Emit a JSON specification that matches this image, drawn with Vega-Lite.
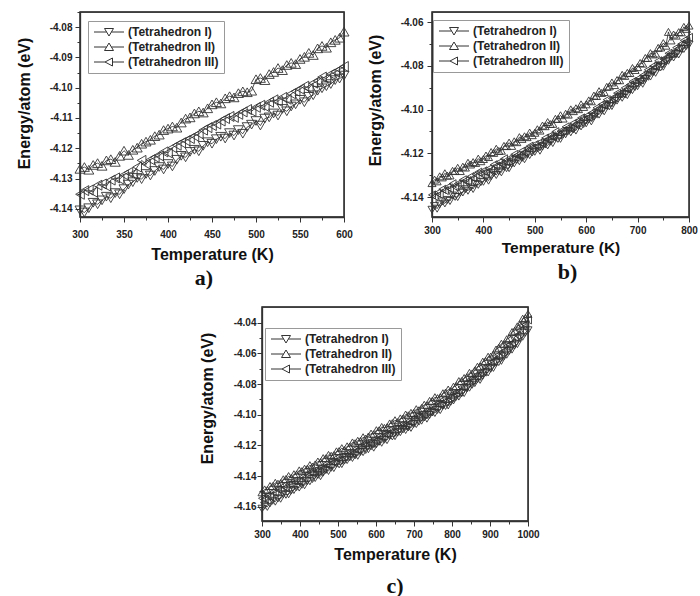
{
  "$schema": "https://vega.github.io/schema/vega-lite/v6.json",
  "background": "white",
  "padding": {"left": 15, "top": 10, "right": 5, "bottom": 5},
  "config": {
    "font": "Liberation Sans",
    "view": {"stroke": "#333", "strokeWidth": 1.3},
    "axis": {
      "grid": false,
      "domain": true,
      "domainColor": "#333",
      "domainWidth": 1.3,
      "ticks": true,
      "tickColor": "#333",
      "tickWidth": 1,
      "labelFont": "Liberation Sans",
      "labelFontSize": 10,
      "labelFontWeight": "bold",
      "labelColor": "#222",
      "titleFont": "Liberation Sans",
      "titleFontSize": 16,
      "titleFontWeight": "bold",
      "titleColor": "#111"
    },
    "legend": {
      "title": null,
      "orient": "none",
      "padding": 5,
      "rowPadding": 3,
      "strokeColor": "#999",
      "strokeWidth": 1,
      "fillColor": "white",
      "labelFont": "Liberation Sans",
      "labelFontSize": 12,
      "labelFontWeight": "bold",
      "labelColor": "#222",
      "labelOffset": 23,
      "symbolSize": 100,
      "symbolOpacity": 1,
      "symbolStrokeWidth": 1,
      "symbolStrokeColor": "#333",
      "symbolFillColor": "transparent"
    },
    "title": {"font": "Liberation Serif", "fontSize": 22, "fontWeight": "bold", "color": "#111"}
  },
  "datasets": {
    "panelA": [
      {"t":300,"I":-4.1405,"II":-4.1268,"III":-4.1352},
      {"t":305,"I":-4.1412,"II":-4.1262,"III":-4.1340},
      {"t":310,"I":-4.1398,"II":-4.1271,"III":-4.1338},
      {"t":315,"I":-4.1380,"II":-4.1255,"III":-4.1345},
      {"t":320,"I":-4.1385,"II":-4.1249,"III":-4.1322},
      {"t":325,"I":-4.1372,"II":-4.1258,"III":-4.1318},
      {"t":330,"I":-4.1360,"II":-4.1240,"III":-4.1325},
      {"t":335,"I":-4.1365,"II":-4.1236,"III":-4.1305},
      {"t":340,"I":-4.1348,"II":-4.1245,"III":-4.1298},
      {"t":345,"I":-4.1352,"II":-4.1225,"III":-4.1302},
      {"t":350,"I":-4.1335,"II":-4.1208,"III":-4.1288},
      {"t":355,"I":-4.1320,"II":-4.1222,"III":-4.1280},
      {"t":360,"I":-4.1312,"II":-4.1205,"III":-4.1285},
      {"t":365,"I":-4.1298,"II":-4.1198,"III":-4.1262},
      {"t":370,"I":-4.1302,"II":-4.1185,"III":-4.1240},
      {"t":375,"I":-4.1285,"II":-4.1178,"III":-4.1252},
      {"t":380,"I":-4.1290,"II":-4.1172,"III":-4.1238},
      {"t":385,"I":-4.1275,"II":-4.1160,"III":-4.1230},
      {"t":390,"I":-4.1262,"II":-4.1155,"III":-4.1225},
      {"t":395,"I":-4.1270,"II":-4.1140,"III":-4.1212},
      {"t":400,"I":-4.1252,"II":-4.1135,"III":-4.1215},
      {"t":405,"I":-4.1260,"II":-4.1128,"III":-4.1198},
      {"t":410,"I":-4.1238,"II":-4.1132,"III":-4.1190},
      {"t":415,"I":-4.1225,"II":-4.1115,"III":-4.1182},
      {"t":420,"I":-4.1230,"II":-4.1102,"III":-4.1175},
      {"t":425,"I":-4.1212,"II":-4.1098,"III":-4.1168},
      {"t":430,"I":-4.1205,"II":-4.1085,"III":-4.1160},
      {"t":435,"I":-4.1210,"II":-4.1078,"III":-4.1152},
      {"t":440,"I":-4.1192,"II":-4.1082,"III":-4.1140},
      {"t":445,"I":-4.1180,"II":-4.1068,"III":-4.1132},
      {"t":450,"I":-4.1185,"II":-4.1055,"III":-4.1125},
      {"t":455,"I":-4.1170,"II":-4.1048,"III":-4.1120},
      {"t":460,"I":-4.1162,"II":-4.1052,"III":-4.1110},
      {"t":465,"I":-4.1168,"II":-4.1035,"III":-4.1102},
      {"t":470,"I":-4.1150,"II":-4.1028,"III":-4.1095},
      {"t":475,"I":-4.1158,"II":-4.1032,"III":-4.1098},
      {"t":480,"I":-4.1140,"II":-4.1018,"III":-4.1088},
      {"t":485,"I":-4.1152,"II":-4.1012,"III":-4.1080},
      {"t":490,"I":-4.1130,"II":-4.1015,"III":-4.1072},
      {"t":495,"I":-4.1122,"II":-4.1010,"III":-4.1078},
      {"t":500,"I":-4.1110,"II":-4.0972,"III":-4.1065},
      {"t":505,"I":-4.1125,"II":-4.0968,"III":-4.1058},
      {"t":510,"I":-4.1102,"II":-4.0975,"III":-4.1062},
      {"t":515,"I":-4.1098,"II":-4.0955,"III":-4.1048},
      {"t":520,"I":-4.1085,"II":-4.0948,"III":-4.1040},
      {"t":525,"I":-4.1092,"II":-4.0935,"III":-4.1045},
      {"t":530,"I":-4.1070,"II":-4.0942,"III":-4.1032},
      {"t":535,"I":-4.1078,"II":-4.0925,"III":-4.1038},
      {"t":540,"I":-4.1062,"II":-4.0918,"III":-4.1020},
      {"t":545,"I":-4.1055,"II":-4.0922,"III":-4.1012},
      {"t":550,"I":-4.1040,"II":-4.0905,"III":-4.1005},
      {"t":555,"I":-4.1048,"II":-4.0898,"III":-4.0995},
      {"t":560,"I":-4.1030,"II":-4.0885,"III":-4.1002},
      {"t":565,"I":-4.1025,"II":-4.0892,"III":-4.0985},
      {"t":570,"I":-4.1010,"II":-4.0870,"III":-4.0978},
      {"t":575,"I":-4.1002,"II":-4.0862,"III":-4.0965},
      {"t":580,"I":-4.0995,"II":-4.0868,"III":-4.0970},
      {"t":585,"I":-4.0988,"II":-4.0850,"III":-4.0955},
      {"t":590,"I":-4.0975,"II":-4.0842,"III":-4.0948},
      {"t":595,"I":-4.0970,"II":-4.0835,"III":-4.0940},
      {"t":600,"I":-4.0960,"II":-4.0815,"III":-4.0930}
    ],
    "panelB": [
      {"t":300,"I":-4.1458,"II":-4.1336,"III":-4.1390},
      {"t":305,"I":-4.1441,"II":-4.1320,"III":-4.1397},
      {"t":310,"I":-4.1453,"II":-4.1328,"III":-4.1382},
      {"t":315,"I":-4.1433,"II":-4.1305,"III":-4.1388},
      {"t":320,"I":-4.1420,"II":-4.1310,"III":-4.1364},
      {"t":325,"I":-4.1429,"II":-4.1291,"III":-4.1370},
      {"t":330,"I":-4.1413,"II":-4.1302,"III":-4.1355},
      {"t":335,"I":-4.1418,"II":-4.1301,"III":-4.1362},
      {"t":340,"I":-4.1393,"II":-4.1280,"III":-4.1339},
      {"t":345,"I":-4.1399,"II":-4.1281,"III":-4.1354},
      {"t":350,"I":-4.1400,"II":-4.1266,"III":-4.1339},
      {"t":355,"I":-4.1379,"II":-4.1281,"III":-4.1339},
      {"t":360,"I":-4.1379,"II":-4.1261,"III":-4.1321},
      {"t":365,"I":-4.1364,"II":-4.1265,"III":-4.1325},
      {"t":370,"I":-4.1371,"II":-4.1243,"III":-4.1329},
      {"t":375,"I":-4.1356,"II":-4.1251,"III":-4.1306},
      {"t":380,"I":-4.1363,"II":-4.1240,"III":-4.1314},
      {"t":385,"I":-4.1340,"II":-4.1244,"III":-4.1297},
      {"t":390,"I":-4.1344,"II":-4.1224,"III":-4.1286},
      {"t":395,"I":-4.1332,"II":-4.1236,"III":-4.1294},
      {"t":400,"I":-4.1330,"II":-4.1226,"III":-4.1280},
      {"t":405,"I":-4.1314,"II":-4.1210,"III":-4.1287},
      {"t":410,"I":-4.1325,"II":-4.1217,"III":-4.1271},
      {"t":415,"I":-4.1305,"II":-4.1194,"III":-4.1277},
      {"t":420,"I":-4.1291,"II":-4.1198,"III":-4.1252},
      {"t":425,"I":-4.1299,"II":-4.1179,"III":-4.1258},
      {"t":430,"I":-4.1282,"II":-4.1189,"III":-4.1242},
      {"t":435,"I":-4.1287,"II":-4.1188,"III":-4.1249},
      {"t":440,"I":-4.1261,"II":-4.1166,"III":-4.1225},
      {"t":445,"I":-4.1268,"II":-4.1167,"III":-4.1240},
      {"t":450,"I":-4.1268,"II":-4.1151,"III":-4.1224},
      {"t":455,"I":-4.1247,"II":-4.1166,"III":-4.1224},
      {"t":460,"I":-4.1246,"II":-4.1145,"III":-4.1205},
      {"t":465,"I":-4.1230,"II":-4.1149,"III":-4.1209},
      {"t":470,"I":-4.1236,"II":-4.1126,"III":-4.1212},
      {"t":475,"I":-4.1221,"II":-4.1134,"III":-4.1189},
      {"t":480,"I":-4.1227,"II":-4.1122,"III":-4.1196},
      {"t":485,"I":-4.1205,"II":-4.1126,"III":-4.1179},
      {"t":490,"I":-4.1208,"II":-4.1105,"III":-4.1167},
      {"t":495,"I":-4.1196,"II":-4.1117,"III":-4.1175},
      {"t":500,"I":-4.1193,"II":-4.1106,"III":-4.1160},
      {"t":505,"I":-4.1177,"II":-4.1090,"III":-4.1167},
      {"t":510,"I":-4.1188,"II":-4.1096,"III":-4.1150},
      {"t":515,"I":-4.1169,"II":-4.1073,"III":-4.1156},
      {"t":520,"I":-4.1155,"II":-4.1076,"III":-4.1130},
      {"t":525,"I":-4.1164,"II":-4.1057,"III":-4.1136},
      {"t":530,"I":-4.1147,"II":-4.1066,"III":-4.1119},
      {"t":535,"I":-4.1153,"II":-4.1065,"III":-4.1126},
      {"t":540,"I":-4.1127,"II":-4.1042,"III":-4.1101},
      {"t":545,"I":-4.1134,"II":-4.1043,"III":-4.1116},
      {"t":550,"I":-4.1134,"II":-4.1026,"III":-4.1099},
      {"t":555,"I":-4.1114,"II":-4.1041,"III":-4.1099},
      {"t":560,"I":-4.1113,"II":-4.1019,"III":-4.1079},
      {"t":565,"I":-4.1098,"II":-4.1023,"III":-4.1083},
      {"t":570,"I":-4.1104,"II":-4.0999,"III":-4.1085},
      {"t":575,"I":-4.1090,"II":-4.1007,"III":-4.1062},
      {"t":580,"I":-4.1096,"II":-4.0994,"III":-4.1068},
      {"t":585,"I":-4.1074,"II":-4.0998,"III":-4.1051},
      {"t":590,"I":-4.1077,"II":-4.0976,"III":-4.1038},
      {"t":595,"I":-4.1066,"II":-4.0988,"III":-4.1046},
      {"t":600,"I":-4.1063,"II":-4.0976,"III":-4.1030},
      {"t":605,"I":-4.1045,"II":-4.0958,"III":-4.1035},
      {"t":610,"I":-4.1054,"II":-4.0962,"III":-4.1016},
      {"t":615,"I":-4.1032,"II":-4.0936,"III":-4.1019},
      {"t":620,"I":-4.1017,"II":-4.0938,"III":-4.0992},
      {"t":625,"I":-4.1023,"II":-4.0916,"III":-4.0995},
      {"t":630,"I":-4.1005,"II":-4.0924,"III":-4.0977},
      {"t":635,"I":-4.1008,"II":-4.0920,"III":-4.0981},
      {"t":640,"I":-4.0981,"II":-4.0896,"III":-4.0955},
      {"t":645,"I":-4.0985,"II":-4.0894,"III":-4.0967},
      {"t":650,"I":-4.0984,"II":-4.0876,"III":-4.0949},
      {"t":655,"I":-4.0961,"II":-4.0888,"III":-4.0946},
      {"t":660,"I":-4.0959,"II":-4.0865,"III":-4.0925},
      {"t":665,"I":-4.0941,"II":-4.0866,"III":-4.0926},
      {"t":670,"I":-4.0946,"II":-4.0841,"III":-4.0927},
      {"t":675,"I":-4.0929,"II":-4.0846,"III":-4.0901},
      {"t":680,"I":-4.0934,"II":-4.0832,"III":-4.0906},
      {"t":685,"I":-4.0909,"II":-4.0833,"III":-4.0886},
      {"t":690,"I":-4.0911,"II":-4.0810,"III":-4.0872},
      {"t":695,"I":-4.0897,"II":-4.0819,"III":-4.0877},
      {"t":700,"I":-4.0893,"II":-4.0806,"III":-4.0860},
      {"t":705,"I":-4.0874,"II":-4.0787,"III":-4.0864},
      {"t":710,"I":-4.0882,"II":-4.0790,"III":-4.0844},
      {"t":715,"I":-4.0860,"II":-4.0764,"III":-4.0847},
      {"t":720,"I":-4.0843,"II":-4.0764,"III":-4.0818},
      {"t":725,"I":-4.0849,"II":-4.0742,"III":-4.0821},
      {"t":730,"I":-4.0829,"II":-4.0748,"III":-4.0801},
      {"t":735,"I":-4.0832,"II":-4.0744,"III":-4.0805},
      {"t":740,"I":-4.0803,"II":-4.0718,"III":-4.0777},
      {"t":745,"I":-4.0807,"II":-4.0716,"III":-4.0789},
      {"t":750,"I":-4.0804,"II":-4.0696,"III":-4.0769},
      {"t":755,"I":-4.0781,"II":-4.0708,"III":-4.0766},
      {"t":760,"I":-4.0777,"II":-4.0645,"III":-4.0743},
      {"t":765,"I":-4.0759,"II":-4.0684,"III":-4.0744},
      {"t":770,"I":-4.0762,"II":-4.0657,"III":-4.0743},
      {"t":775,"I":-4.0745,"II":-4.0662,"III":-4.0717},
      {"t":780,"I":-4.0748,"II":-4.0646,"III":-4.0720},
      {"t":785,"I":-4.0723,"II":-4.0647,"III":-4.0700},
      {"t":790,"I":-4.0723,"II":-4.0622,"III":-4.0684},
      {"t":795,"I":-4.0709,"II":-4.0631,"III":-4.0689},
      {"t":800,"I":-4.0703,"II":-4.0616,"III":-4.0670}
    ],
    "panelC": [
      {"t":300,"I":-4.1613,"II":-4.1506,"III":-4.1545},
      {"t":307,"I":-4.1593,"II":-4.1487,"III":-4.1549},
      {"t":314,"I":-4.1601,"II":-4.1491,"III":-4.1530},
      {"t":321,"I":-4.1578,"II":-4.1465,"III":-4.1533},
      {"t":328,"I":-4.1561,"II":-4.1466,"III":-4.1505},
      {"t":335,"I":-4.1567,"II":-4.1444,"III":-4.1508},
      {"t":342,"I":-4.1546,"II":-4.1450,"III":-4.1488},
      {"t":349,"I":-4.1548,"II":-4.1446,"III":-4.1492},
      {"t":356,"I":-4.1519,"II":-4.1421,"III":-4.1465},
      {"t":363,"I":-4.1522,"II":-4.1419,"III":-4.1477},
      {"t":370,"I":-4.1519,"II":-4.1400,"III":-4.1458},
      {"t":377,"I":-4.1495,"II":-4.1412,"III":-4.1455},
      {"t":384,"I":-4.1491,"II":-4.1388,"III":-4.1433},
      {"t":391,"I":-4.1472,"II":-4.1389,"III":-4.1434},
      {"t":398,"I":-4.1475,"II":-4.1363,"III":-4.1434},
      {"t":405,"I":-4.1457,"II":-4.1368,"III":-4.1408},
      {"t":412,"I":-4.1460,"II":-4.1352,"III":-4.1411},
      {"t":419,"I":-4.1434,"II":-4.1353,"III":-4.1391},
      {"t":426,"I":-4.1434,"II":-4.1329,"III":-4.1376},
      {"t":433,"I":-4.1419,"II":-4.1338,"III":-4.1381},
      {"t":440,"I":-4.1413,"II":-4.1324,"III":-4.1363},
      {"t":447,"I":-4.1393,"II":-4.1305,"III":-4.1367},
      {"t":454,"I":-4.1401,"II":-4.1309,"III":-4.1348},
      {"t":461,"I":-4.1378,"II":-4.1283,"III":-4.1351},
      {"t":468,"I":-4.1361,"II":-4.1284,"III":-4.1323},
      {"t":475,"I":-4.1367,"II":-4.1262,"III":-4.1326},
      {"t":482,"I":-4.1346,"II":-4.1268,"III":-4.1306},
      {"t":489,"I":-4.1348,"II":-4.1264,"III":-4.1310},
      {"t":496,"I":-4.1319,"II":-4.1239,"III":-4.1283},
      {"t":503,"I":-4.1324,"II":-4.1237,"III":-4.1295},
      {"t":510,"I":-4.1322,"II":-4.1218,"III":-4.1276},
      {"t":517,"I":-4.1299,"II":-4.1230,"III":-4.1273},
      {"t":524,"I":-4.1296,"II":-4.1206,"III":-4.1251},
      {"t":531,"I":-4.1278,"II":-4.1207,"III":-4.1252},
      {"t":538,"I":-4.1282,"II":-4.1181,"III":-4.1252},
      {"t":545,"I":-4.1265,"II":-4.1186,"III":-4.1226},
      {"t":552,"I":-4.1268,"II":-4.1170,"III":-4.1229},
      {"t":559,"I":-4.1243,"II":-4.1171,"III":-4.1209},
      {"t":566,"I":-4.1244,"II":-4.1147,"III":-4.1194},
      {"t":573,"I":-4.1230,"II":-4.1156,"III":-4.1199},
      {"t":580,"I":-4.1225,"II":-4.1142,"III":-4.1181},
      {"t":587,"I":-4.1206,"II":-4.1123,"III":-4.1185},
      {"t":594,"I":-4.1215,"II":-4.1127,"III":-4.1166},
      {"t":601,"I":-4.1193,"II":-4.1101,"III":-4.1169},
      {"t":608,"I":-4.1177,"II":-4.1102,"III":-4.1141},
      {"t":615,"I":-4.1183,"II":-4.1080,"III":-4.1144},
      {"t":622,"I":-4.1163,"II":-4.1086,"III":-4.1124},
      {"t":629,"I":-4.1166,"II":-4.1082,"III":-4.1128},
      {"t":636,"I":-4.1138,"II":-4.1057,"III":-4.1101},
      {"t":643,"I":-4.1142,"II":-4.1055,"III":-4.1113},
      {"t":650,"I":-4.1140,"II":-4.1036,"III":-4.1094},
      {"t":657,"I":-4.1117,"II":-4.1048,"III":-4.1091},
      {"t":664,"I":-4.1114,"II":-4.1024,"III":-4.1069},
      {"t":671,"I":-4.1096,"II":-4.1025,"III":-4.1070},
      {"t":678,"I":-4.1100,"II":-4.0999,"III":-4.1070},
      {"t":685,"I":-4.1083,"II":-4.1004,"III":-4.1044},
      {"t":692,"I":-4.1086,"II":-4.0988,"III":-4.1047},
      {"t":699,"I":-4.1061,"II":-4.0989,"III":-4.1027},
      {"t":706,"I":-4.1061,"II":-4.0964,"III":-4.1011},
      {"t":713,"I":-4.1045,"II":-4.0971,"III":-4.1014},
      {"t":720,"I":-4.1039,"II":-4.0956,"III":-4.0995},
      {"t":727,"I":-4.1018,"II":-4.0935,"III":-4.0997},
      {"t":734,"I":-4.1026,"II":-4.0938,"III":-4.0977},
      {"t":741,"I":-4.1002,"II":-4.0910,"III":-4.0978},
      {"t":748,"I":-4.0985,"II":-4.0910,"III":-4.0949},
      {"t":755,"I":-4.0989,"II":-4.0886,"III":-4.0950},
      {"t":762,"I":-4.0969,"II":-4.0892,"III":-4.0930},
      {"t":769,"I":-4.0970,"II":-4.0886,"III":-4.0932},
      {"t":776,"I":-4.0941,"II":-4.0860,"III":-4.0904},
      {"t":783,"I":-4.0943,"II":-4.0856,"III":-4.0914},
      {"t":790,"I":-4.0940,"II":-4.0836,"III":-4.0894},
      {"t":797,"I":-4.0915,"II":-4.0846,"III":-4.0889},
      {"t":804,"I":-4.0907,"II":-4.0817,"III":-4.0862},
      {"t":811,"I":-4.0884,"II":-4.0813,"III":-4.0858},
      {"t":818,"I":-4.0882,"II":-4.0781,"III":-4.0852},
      {"t":825,"I":-4.0860,"II":-4.0781,"III":-4.0821},
      {"t":832,"I":-4.0859,"II":-4.0761,"III":-4.0820},
      {"t":839,"I":-4.0828,"II":-4.0756,"III":-4.0794},
      {"t":846,"I":-4.0824,"II":-4.0727,"III":-4.0774},
      {"t":853,"I":-4.0805,"II":-4.0731,"III":-4.0774},
      {"t":860,"I":-4.0794,"II":-4.0711,"III":-4.0750},
      {"t":867,"I":-4.0770,"II":-4.0687,"III":-4.0749},
      {"t":874,"I":-4.0773,"II":-4.0685,"III":-4.0724},
      {"t":881,"I":-4.0746,"II":-4.0654,"III":-4.0722},
      {"t":888,"I":-4.0725,"II":-4.0650,"III":-4.0689},
      {"t":895,"I":-4.0725,"II":-4.0622,"III":-4.0686},
      {"t":902,"I":-4.0700,"II":-4.0621,"III":-4.0659},
      {"t":909,"I":-4.0695,"II":-4.0608,"III":-4.0654},
      {"t":916,"I":-4.0661,"II":-4.0575,"III":-4.0619},
      {"t":923,"I":-4.0657,"II":-4.0564,"III":-4.0622},
      {"t":930,"I":-4.0649,"II":-4.0537,"III":-4.0595},
      {"t":937,"I":-4.0619,"II":-4.0540,"III":-4.0583},
      {"t":944,"I":-4.0609,"II":-4.0508,"III":-4.0553},
      {"t":951,"I":-4.0584,"II":-4.0500,"III":-4.0545},
      {"t":958,"I":-4.0576,"II":-4.0461,"III":-4.0532},
      {"t":965,"I":-4.0548,"II":-4.0453,"III":-4.0493},
      {"t":972,"I":-4.0540,"II":-4.0424,"III":-4.0483},
      {"t":979,"I":-4.0503,"II":-4.0412,"III":-4.0450},
      {"t":986,"I":-4.0492,"II":-4.0374,"III":-4.0421},
      {"t":993,"I":-4.0466,"II":-4.0370,"III":-4.0413},
      {"t":1000,"I":-4.0450,"II":-4.0343,"III":-4.0382}
    ]
  },
  "resolve": {"scale": {"shape": "independent", "x": "independent", "y": "independent"}, "legend": {"shape": "independent"}},
  "spacing": 15,
  "vconcat": [
    {
      "hconcat": [
        {
          "width": 264,
          "height": 205,
          "data": {"name": "panelA"},
          "transform": [{"fold": ["I", "II", "III"], "as": ["series", "energy"]}],
          "title": {"text": "a)", "orient": "bottom", "frame": "group", "offset": 6, "dx": -8},
          "encoding": {
            "x": {
              "field": "t", "type": "quantitative",
              "scale": {"domain": [300, 600], "nice": false},
              "axis": {
                "title": "Temperature (K)",
                "values": [300, 325, 350, 375, 400, 425, 450, 475, 500, 525, 550, 575, 600],
                "format": "d",
                "labelFlush": false,
                "labelExpr": "datum.value % 50 === 0 ? datum.label : ''",
                "tickSize": {"condition": {"test": "datum.value % 50 !== 0", "value": 3}, "value": 5},
                "labelPadding": 7,
                "titlePadding": 7
              }
            },
            "y": {
              "field": "energy", "type": "quantitative",
              "scale": {"domain": [-4.1427, -4.075], "nice": false, "zero": false},
              "axis": {
                "title": "Energy/atom (eV)",
                "values": [-4.14, -4.135, -4.13, -4.125, -4.12, -4.115, -4.11, -4.105, -4.1, -4.095, -4.09, -4.085, -4.08, -4.075],
                "labelExpr": "abs(datum.value*100 - round(datum.value*100)) < 0.01 ? replace(format(datum.value, '.2f'), '−', '-') : ''",
                "tickSize": {"condition": {"test": "abs(datum.value*100 - round(datum.value*100)) > 0.01", "value": 3}, "value": 5},
                "labelPadding": 3,
                "titlePadding": 17,
                "titleY": 91
              }
            }
          },
          "resolve": {"scale": {"shape": "independent"}, "legend": {"shape": "independent"}},
          "layer": [
            {
              "transform": [{"filter": "datum.t === 300 && datum.series === 'I'"}],
              "mark": {"type": "rect", "filled": false, "stroke": "#333", "strokeWidth": 1.3},
              "encoding": {
                "x": {"datum": 300, "type": "quantitative"},
                "x2": {"datum": 600},
                "y": {"datum": -4.1427, "type": "quantitative"},
                "y2": {"datum": -4.075}
              }
            },
            {"mark": {"type": "line", "color": "#222", "strokeWidth": 0.8}, "encoding": {"detail": {"field": "series"}}},
            {
              "mark": {"type": "point", "filled": false, "size": 100, "color": "#333", "strokeWidth": 0.9, "opacity": 1},
              "encoding": {
                "shape": {
                  "field": "series", "type": "nominal",
                  "scale": {"domain": ["I", "II", "III"], "range": ["triangle-down", "triangle-up", "triangle-left"]},
                  "legend": null
                }
              }
            },
            {
              "transform": [{"filter": "datum.t === 300"}],
              "mark": {"type": "point", "filled": false, "size": 100, "color": "#333", "opacity": 0},
              "encoding": {
                "shape": {
                  "field": "series", "type": "nominal",
                  "scale": {"domain": ["I", "II", "III"], "range": ["M-1,0H1.52M2.48,0H5M1.1,-0.7H2.9L2,0.8Z", "M-1,0H1.52M2.48,0H5M2,-0.8L2.9,0.7H1.1Z", "M-1,0H1.2M2.7,0H5M1.2,0L2.7,-0.8V0.8Z"]},
                  "legend": {
                    "legendX": 8, "legendY": 9,
                    "symbolOpacity": 1,
                    "labelExpr": "'(Tetrahedron ' + datum.label + ')'"
                  }
                }
              }
            }
          ]
        },
        {
          "width": 257,
          "height": 205,
          "data": {"name": "panelB"},
          "transform": [{"fold": ["I", "II", "III"], "as": ["series", "energy"]}],
          "title": {"text": "b)", "orient": "bottom", "frame": "group", "offset": 6, "dx": 7},
          "encoding": {
            "x": {
              "field": "t", "type": "quantitative",
              "scale": {"domain": [300, 800], "nice": false},
              "axis": {
                "title": "Temperature (K)",
                "values": [300, 350, 400, 450, 500, 550, 600, 650, 700, 750, 800],
                "format": "d",
                "labelFlush": false,
                "labelExpr": "datum.value % 100 === 0 ? datum.label : ''",
                "tickSize": {"condition": {"test": "datum.value % 100 !== 0", "value": 3}, "value": 5},
                "labelPadding": 3,
                "titlePadding": 5,
                "titleFontSize": 15.5
              }
            },
            "y": {
              "field": "energy", "type": "quantitative",
              "scale": {"domain": [-4.1491, -4.0554], "nice": false, "zero": false},
              "axis": {
                "title": "Energy/atom (eV)",
                "values": [-4.14, -4.13, -4.12, -4.11, -4.1, -4.09, -4.08, -4.07, -4.06],
                "labelExpr": "abs(datum.value*50 - round(datum.value*50)) < 0.01 ? replace(format(datum.value, '.2f'), '−', '-') : ''",
                "tickSize": {"condition": {"test": "abs(datum.value*50 - round(datum.value*50)) > 0.01", "value": 3}, "value": 5},
                "labelPadding": 4,
                "titlePadding": 17,
                "titleY": 88
              }
            }
          },
          "resolve": {"scale": {"shape": "independent"}, "legend": {"shape": "independent"}},
          "layer": [
            {
              "transform": [{"filter": "datum.t === 300 && datum.series === 'I'"}],
              "mark": {"type": "rect", "filled": false, "stroke": "#333", "strokeWidth": 1.3},
              "encoding": {
                "x": {"datum": 300, "type": "quantitative"},
                "x2": {"datum": 800},
                "y": {"datum": -4.1491, "type": "quantitative"},
                "y2": {"datum": -4.0554}
              }
            },
            {"mark": {"type": "line", "color": "#222", "strokeWidth": 0.8}, "encoding": {"detail": {"field": "series"}}},
            {
              "mark": {"type": "point", "filled": false, "size": 65, "color": "#333", "strokeWidth": 0.9, "opacity": 1},
              "encoding": {
                "shape": {
                  "field": "series", "type": "nominal",
                  "scale": {"domain": ["I", "II", "III"], "range": ["triangle-down", "triangle-up", "triangle-left"]},
                  "legend": null
                }
              }
            },
            {
              "transform": [{"filter": "datum.t === 300"}],
              "mark": {"type": "point", "filled": false, "size": 100, "color": "#333", "opacity": 0},
              "encoding": {
                "shape": {
                  "field": "series", "type": "nominal",
                  "scale": {"domain": ["I", "II", "III"], "range": ["M-1,0H1.52M2.48,0H5M1.1,-0.7H2.9L2,0.8Z", "M-1,0H1.52M2.48,0H5M2,-0.8L2.9,0.7H1.1Z", "M-1,0H1.2M2.7,0H5M1.2,0L2.7,-0.8V0.8Z"]},
                  "legend": {
                    "legendX": 1, "legendY": 8,
                    "symbolOpacity": 1,
                    "labelExpr": "'(Tetrahedron ' + datum.label + ')'"
                  }
                }
              }
            }
          ]
        }
      ],
      "spacing": 13,
      "resolve": {"scale": {"shape": "independent", "x": "independent", "y": "independent"}, "legend": {"shape": "independent"}}
    },
    {
      "hconcat": [
        {
          "width": 117,
          "height": 10,
          "data": {"values": [{"gap": 0}]},
          "mark": {"type": "point", "opacity": 0},
          "encoding": {},
          "view": {"stroke": "transparent"}
        },
        {
          "width": 266,
          "height": 214,
          "data": {"name": "panelC"},
          "transform": [{"fold": ["I", "II", "III"], "as": ["series", "energy"]}],
          "title": {"text": "c)", "orient": "bottom", "frame": "group", "offset": 14},
          "encoding": {
            "x": {
              "field": "t", "type": "quantitative",
              "scale": {"domain": [300, 1000], "nice": false},
              "axis": {
                "title": "Temperature (K)",
                "values": [300, 350, 400, 450, 500, 550, 600, 650, 700, 750, 800, 850, 900, 950, 1000],
                "format": "d",
                "labelFlush": false,
                "labelExpr": "datum.value % 100 === 0 ? datum.label : ''",
                "tickSize": {"condition": {"test": "datum.value % 100 !== 0", "value": 3}, "value": 5},
                "labelPadding": 3,
                "titlePadding": 7
              }
            },
            "y": {
              "field": "energy", "type": "quantitative",
              "scale": {"domain": [-4.1693, -4.0298], "nice": false, "zero": false},
              "axis": {
                "title": "Energy/atom (eV)",
                "values": [-4.16, -4.15, -4.14, -4.13, -4.12, -4.11, -4.1, -4.09, -4.08, -4.07, -4.06, -4.05, -4.04],
                "labelExpr": "abs(datum.value*50 - round(datum.value*50)) < 0.01 ? replace(format(datum.value, '.2f'), '−', '-') : ''",
                "tickSize": {"condition": {"test": "abs(datum.value*50 - round(datum.value*50)) > 0.01", "value": 3}, "value": 5},
                "labelPadding": 1,
                "titlePadding": 18,
                "titleY": 91
              }
            }
          },
          "resolve": {"scale": {"shape": "independent"}, "legend": {"shape": "independent"}},
          "layer": [
            {
              "transform": [{"filter": "datum.t === 300 && datum.series === 'I'"}],
              "mark": {"type": "rect", "filled": false, "stroke": "#333", "strokeWidth": 1.3},
              "encoding": {
                "x": {"datum": 300, "type": "quantitative"},
                "x2": {"datum": 1000},
                "y": {"datum": -4.1693, "type": "quantitative"},
                "y2": {"datum": -4.0298}
              }
            },
            {"mark": {"type": "line", "color": "#222", "strokeWidth": 0.8}, "encoding": {"detail": {"field": "series"}}},
            {
              "mark": {"type": "point", "filled": false, "size": 65, "color": "#333", "strokeWidth": 0.9, "opacity": 1},
              "encoding": {
                "shape": {
                  "field": "series", "type": "nominal",
                  "scale": {"domain": ["I", "II", "III"], "range": ["triangle-down", "triangle-up", "triangle-left"]},
                  "legend": null
                }
              }
            },
            {
              "transform": [{"filter": "datum.t === 300"}],
              "mark": {"type": "point", "filled": false, "size": 100, "color": "#333", "opacity": 0},
              "encoding": {
                "shape": {
                  "field": "series", "type": "nominal",
                  "scale": {"domain": ["I", "II", "III"], "range": ["M-1,0H1.52M2.48,0H5M1.1,-0.7H2.9L2,0.8Z", "M-1,0H1.52M2.48,0H5M2,-0.8L2.9,0.7H1.1Z", "M-1,0H1.2M2.7,0H5M1.2,0L2.7,-0.8V0.8Z"]},
                  "legend": {
                    "legendX": 3, "legendY": 21,
                    "symbolOpacity": 1,
                    "labelExpr": "'(Tetrahedron ' + datum.label + ')'"
                  }
                }
              }
            }
          ]
        }
      ],
      "spacing": 0,
      "resolve": {"scale": {"shape": "independent", "x": "independent", "y": "independent"}, "legend": {"shape": "independent"}}
    }
  ]
}
